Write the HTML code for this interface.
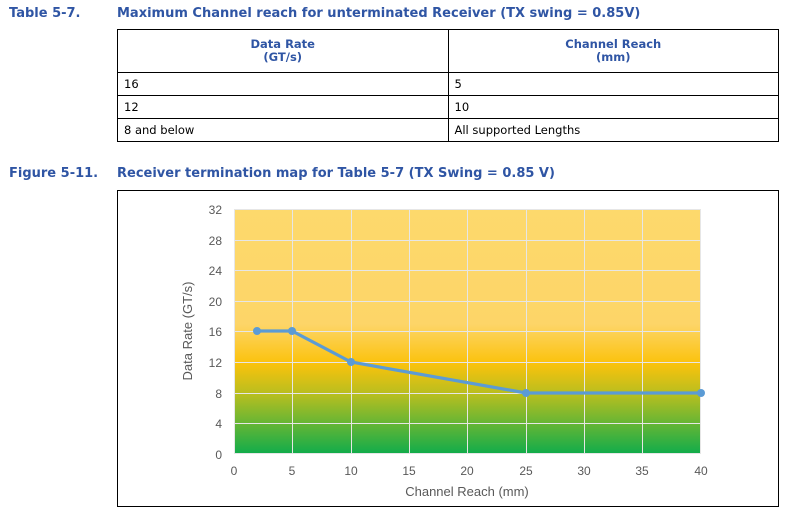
<!DOCTYPE html><html><head><style>
body{margin:0;width:808px;height:514px;background:#fff;font-family:"DejaVu Sans","Liberation Sans",sans-serif;position:relative;overflow:hidden}
.t{position:absolute;color:#2f55a4;font-weight:bold;font-size:13px}
table{position:absolute;left:117px;top:29px;width:662px;border-collapse:collapse;font-size:11.5px}
td{border:1px solid #000;padding:0 6px;height:22px;line-height:13px}
th{border:1px solid #000;color:#2f55a4;font-size:11.5px;height:42px;line-height:13px;width:50%;padding:0}
</style></head><body>
<div class="t" style="left:9px;top:6px">Table 5-7.</div>
<div class="t" style="left:117px;top:6px">Maximum Channel reach for unterminated Receiver (TX swing = 0.85V)</div>
<table><tr><th>Data Rate<br>(GT/s)</th><th>Channel Reach<br>(mm)</th></tr>
<tr><td>16</td><td>5</td></tr><tr><td>12</td><td>10</td></tr><tr><td>8 and below</td><td>All supported Lengths</td></tr></table>
<div class="t" style="left:9px;top:166px">Figure 5-11.</div>
<div class="t" style="left:117px;top:166px">Receiver termination map for Table 5-7 (TX Swing = 0.85 V)</div>
<svg style="position:absolute;left:0;top:0" width="808" height="514">
<defs><linearGradient id="g" x1="0" y1="209" x2="0" y2="454" gradientUnits="userSpaceOnUse">
<stop offset="0" stop-color="#fdd96c"/><stop offset="0.47" stop-color="#fdd568"/><stop offset="0.63" stop-color="#fbc20c"/><stop offset="0.76" stop-color="#b5be20"/><stop offset="1" stop-color="#10ac4b"/></linearGradient></defs>
<rect x="117.5" y="190.5" width="661" height="316" fill="#fff" stroke="#000"/>
<rect x="234" y="209" width="467" height="245" fill="url(#g)"/>
<g stroke="#e6e6e6" stroke-width="1">
<path d="M234 209.5H701M234 240.5H701M234 270.5H701M234 301.5H701M234 331.5H701M234 362.5H701M234 393.5H701M234 423.5H701M234 453.5H701"/>
<path d="M234.5 209V454M292.5 209V454M351.5 209V454M409.5 209V454M467.5 209V454M526.5 209V454M584.5 209V454M642.5 209V454M700.5 209V454"/>
</g>
<g font-family="Liberation Sans,sans-serif" font-size="12" fill="#595959" text-anchor="end">
<text x="222" y="214">32</text><text x="222" y="245">28</text><text x="222" y="275">24</text><text x="222" y="306">20</text><text x="222" y="336">16</text><text x="222" y="367">12</text><text x="222" y="398">8</text><text x="222" y="428">4</text><text x="222" y="459">0</text></g>
<g font-family="Liberation Sans,sans-serif" font-size="12" fill="#595959" text-anchor="middle">
<text x="234" y="475">0</text><text x="292" y="475">5</text><text x="351" y="475">10</text><text x="409" y="475">15</text><text x="467" y="475">20</text><text x="526" y="475">25</text><text x="584" y="475">30</text><text x="642" y="475">35</text><text x="701" y="475">40</text>
<text x="467" y="496" font-size="13">Channel Reach (mm)</text>
<text transform="translate(192 331) rotate(-90)" font-size="13">Data Rate (GT/s)</text></g>
<polyline points="257,331 292,331 351,362 526,393 701,393" fill="none" stroke="#5b9bd5" stroke-width="3.2"/>
<g fill="#5b9bd5"><circle cx="257" cy="331" r="4"/><circle cx="292" cy="331" r="4"/><circle cx="351" cy="362" r="4"/><circle cx="526" cy="393" r="4"/><circle cx="701" cy="393" r="4"/></g>
</svg>
</body></html>
